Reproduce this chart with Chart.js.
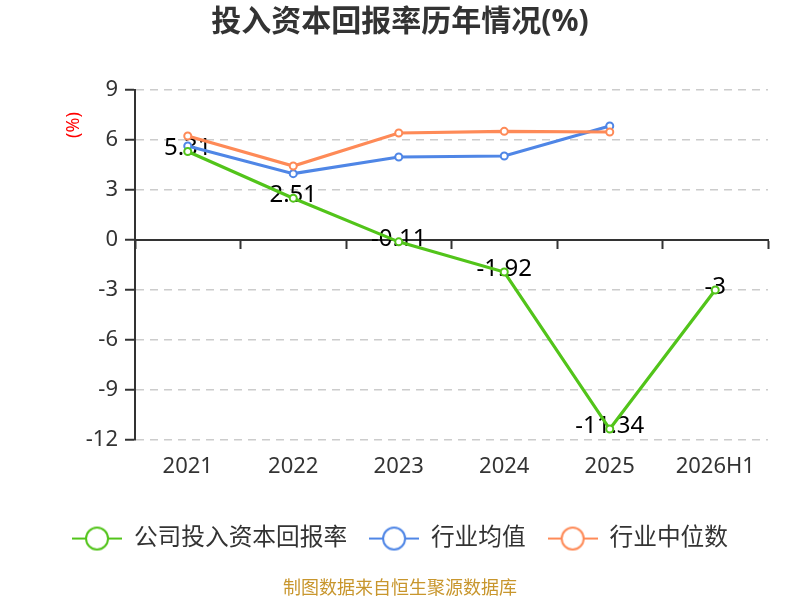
<!DOCTYPE html>
<html>
<head>
<meta charset="utf-8">
<script src="https://cdn.jsdelivr.net/npm/chart.js@4/dist/chart.umd.min.js"></script>
<style>
html,body{margin:0;padding:0;background:#fff;}
#wrap{width:800px;height:600px;}
</style>
</head>
<body>
<div id="wrap"><canvas id="c" width="800" height="600"></canvas></div>
<script>
const categories = ['2021', '2022', '2023', '2024', '2025', '2026H1'];
const companyROIC = [5.31, 2.51, -0.11, -1.92, -11.34, -3];
const industryAvg = [5.64, 3.98, 4.98, 5.04, 6.84, null];
const industryMedian = [6.24, 4.44, 6.42, 6.52, 6.48, null];
const yTickValues = [-12, -9, -6, -3, 0, 3, 6, 9];
const seriesNames = ['公司投入资本回报率', '行业均值', '行业中位数'];
const seriesColors = ['#52c41a', '#4f86e6', '#fe8a57'];
const titleText = '投入资本回报率历年情况(%)';
const footerText = '制图数据来自恒生聚源数据库';
const yUnitText = '(%)';

const FONT = "'Noto Sans', 'Noto Sans CJK SC', sans-serif";

function makeLegendIcon(color) {
  const cv = document.createElement('canvas');
  cv.width = 50; cv.height = 28;
  const g = cv.getContext('2d');
  g.strokeStyle = color;
  g.lineWidth = 2;
  g.beginPath(); g.moveTo(0, 14); g.lineTo(50, 14); g.stroke();
  g.beginPath(); g.arc(25, 14, 11, 0, Math.PI * 2);
  g.fillStyle = '#fff'; g.fill(); g.stroke();
  return cv;
}
const legendIcons = seriesColors.map(makeLegendIcon);

const dataLabelPlugin = {
  id: 'dataLabels',
  beforeDatasetsDraw(chart) {
    const meta = chart.getDatasetMeta(0);
    const ctx = chart.ctx;
    ctx.save();
    ctx.font = '24px ' + FONT;
    ctx.fillStyle = '#000';
    ctx.textAlign = 'center';
    ctx.textBaseline = 'middle';
    meta.data.forEach((el, i) => {
      const v = companyROIC[i];
      if (v === null || v === undefined) return;
      ctx.fillText(String(v), el.x, el.y - 3);
    });
    ctx.restore();
  }
};

const yUnitPlugin = {
  id: 'yUnit',
  afterDraw(chart) {
    const ctx = chart.ctx;
    const a = chart.chartArea;
    ctx.save();
    ctx.translate(a.left - 61.5, a.top + 35);
    ctx.rotate(-Math.PI / 2);
    ctx.font = '18px ' + FONT;
    ctx.fillStyle = '#ff0000';
    ctx.textAlign = 'center';
    ctx.textBaseline = 'middle';
    ctx.fillText(yUnitText, 0, 0);
    ctx.restore();
  }
};

const datasetsData = [companyROIC, industryAvg, industryMedian];
const drawOrder = [0, 2, 1];

new Chart(document.getElementById('c'), {
  type: 'line',
  data: {
    labels: categories,
    datasets: datasetsData.map((d, i) => ({
      label: seriesNames[i],
      data: d,
      borderColor: seriesColors[i],
      backgroundColor: '#fff',
      borderWidth: 3.2,
      pointRadius: 3.5,
      pointBorderWidth: 2,
      pointBackgroundColor: '#fff',
      pointBorderColor: seriesColors[i],
      pointHoverRadius: 3.5,
      tension: 0,
      spanGaps: false,
      order: drawOrder[i],
      xAxisID: 'x',
      yAxisID: 'y'
    }))
  },
  options: {
    responsive: false,
    animation: false,
    events: [],
    layout: { padding: { left: 0, right: 0, top: 0, bottom: 0 } },
    scales: {
      x: {
        type: 'category',
        position: 'bottom',
        offset: true,
        grid: { display: false, drawTicks: false },
        border: { display: false },
        ticks: { color: '#333', font: { size: 22, family: FONT }, padding: 13, maxRotation: 0, autoSkip: false },
        afterFit(s) { s.height = 64.65; }
      },
      x2: {
        type: 'category',
        labels: categories,
        position: { y: 0 },
        offset: true,
        grid: { display: true, drawOnChartArea: false, drawTicks: true, tickLength: 8, tickColor: '#333', tickWidth: 2, color: '#333', offset: true },
        border: { display: true, color: '#333', width: 2 },
        ticks: { display: false }
      },
      y: {
        type: 'linear',
        position: 'left',
        min: -12,
        max: 9,
        afterBuildTicks(s) { s.ticks = yTickValues.map(v => ({ value: v })); },
        grid: { color: '#cccccc', lineWidth: 1.5, drawTicks: true, tickLength: 10, tickColor: '#333', tickWidth: 2, tickBorderDash: [] },
        border: { display: true, color: '#333', width: 2, dash: [8, 6] },
        ticks: { color: '#333', font: { size: 22, family: FONT }, padding: 7 },
        afterFit(s) { s.width = 135; }
      },
      yR: {
        type: 'linear',
        position: 'right',
        display: true,
        grid: { display: false, drawTicks: false },
        border: { display: false },
        ticks: { display: false },
        afterFit(s) { s.width = 32; }
      }
    },
    plugins: {
      title: {
        display: true,
        text: titleText,
        color: '#333',
        font: { size: 30, weight: 'bold', family: FONT },
        padding: { top: 4, bottom: 50 }
      },
      subtitle: {
        display: true,
        position: 'bottom',
        text: footerText,
        color: '#c8962d',
        font: { size: 18, family: FONT, weight: 'normal' },
        padding: { top: 18, bottom: 0 }
      },
      legend: {
        display: true,
        position: 'bottom',
        labels: {
          usePointStyle: true,
          pointStyleWidth: 50,
          padding: 22,
          color: '#333',
          font: { size: 23.7, family: FONT },
          generateLabels(chart) {
            return chart.data.datasets.map((ds, i) => ({
              text: ds.label,
              pointStyle: legendIcons[i],
              fillStyle: ds.borderColor,
              strokeStyle: ds.borderColor,
              lineWidth: 0,
              hidden: !chart.isDatasetVisible(i),
              datasetIndex: i,
              fontColor: '#333',
              rotation: 0
            }));
          }
        }
      },
      tooltip: { enabled: false }
    }
  },
  plugins: [dataLabelPlugin, yUnitPlugin]
});
</script>
</body>
</html>
